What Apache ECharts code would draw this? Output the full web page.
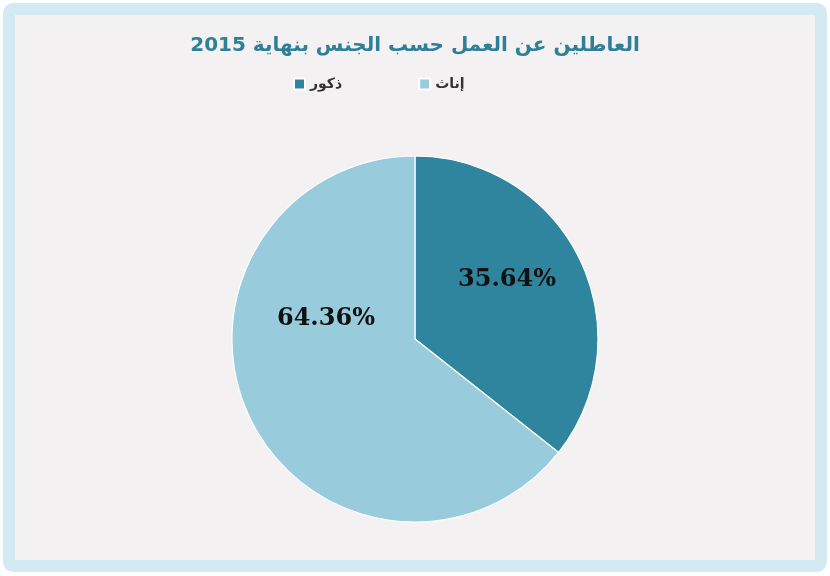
<!DOCTYPE html>
<html>
<head>
<meta charset="utf-8">
<script src="https://cdn.jsdelivr.net/npm/echarts@6/dist/echarts.min.js"></script>
<style>
  html, body { margin: 0; padding: 0; background: #ffffff; }
  #chart { width: 830px; height: 576px; }
</style>
</head>
<body>
<div id="chart"></div>
<script>
// data
const titleText = 'العاطلين عن العمل حسب الجنس بنهاية 2015'
const categories = ['ذكور', 'إناث']
const shares = [35.64, 64.36]
const colors = ['#2f859d', '#98cbdc']
const labelOffsets = [[7, -18], [-4, -61]]

const chart = echarts.init(document.getElementById('chart'))

const pieData = categories.map((name, i) => ({
  name: name,
  value: shares[i],
  itemStyle: { color: colors[i] },
  label: { offset: labelOffsets[i] }
}))

const option = {
  backgroundColor: '#ffffff',
  animation: false,
  graphic: [{
    type: 'rect',
    z: -10,
    shape: { x: 9, y: 9, width: 812, height: 557, r: 4 },
    style: { fill: '#f3f1f2', stroke: '#d4eaf3', lineWidth: 12 }
  }],
  title: {
    text: titleText,
    left: 'center',
    top: 31,
    textStyle: {
      fontFamily: 'DejaVu Sans',
      fontSize: 20,
      fontWeight: 'bold',
      color: '#2e7f98'
    }
  },
  legend: {
    data: categories,
    left: 288,
    top: 72,
    icon: 'rect',
    itemWidth: 11,
    itemHeight: 11,
    itemGap: 76,
    textStyle: {
      fontFamily: 'DejaVu Sans',
      fontSize: 14,
      fontWeight: 'bold',
      color: '#333333'
    }
  },
  series: [{
    type: 'pie',
    center: [415, 339],
    radius: 183,
    startAngle: 90,
    clockwise: true,
    itemStyle: { borderColor: '#ffffff', borderWidth: 1.2 },
    label: {
      show: true,
      position: 'inside',
      formatter: p => p.value.toFixed(2) + '%',
      fontFamily: 'DejaVu Serif',
      fontWeight: 'bold',
      fontSize: 24,
      color: '#111111'
    },
    labelLine: { show: false },
    emphasis: { disabled: true },
    data: pieData
  }]
}

chart.setOption(option)
</script>
</body>
</html>
